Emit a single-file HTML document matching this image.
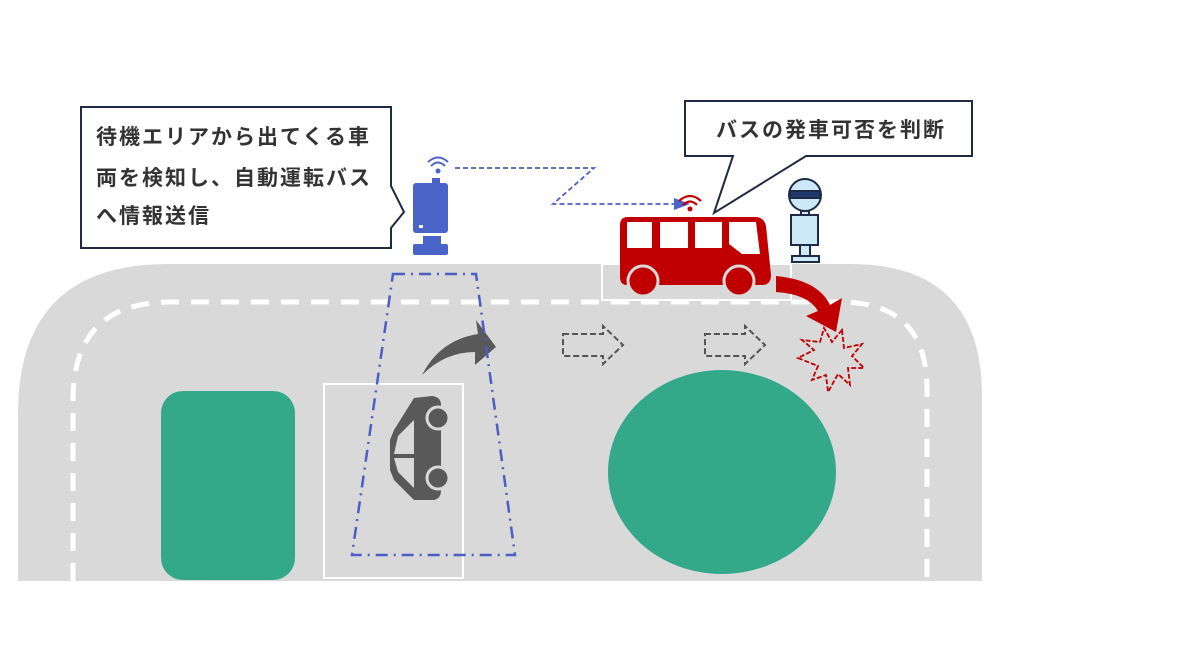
<!DOCTYPE html>
<html><head><meta charset="utf-8"><style>
html,body{margin:0;padding:0;background:#fff;}
svg{display:block;}
text{font-family:"Liberation Sans","Noto Sans CJK JP",sans-serif;font-weight:bold;fill:#333;letter-spacing:2px;}
</style></head><body>
<svg width="1188" height="668" viewBox="0 0 1188 668" xmlns="http://www.w3.org/2000/svg">
<rect width="1188" height="668" fill="#fff"/>
<path d="M18,581 L18,414 Q18,264 168,264 L850,264 Q982,264 982,396 L982,581 Z" fill="#d9d9d9"/>
<path d="M73,581 L73,400 Q73,302 171,302 L840,302 Q927,302 927,389 L927,581" fill="none" stroke="#fff" stroke-width="5" stroke-dasharray="18,12"/>
<rect x="602" y="264" width="189" height="36" fill="#d9d9d9" stroke="#fff" stroke-width="2"/>
<rect x="161" y="391" width="134" height="189" rx="22" fill="#34a98a"/>
<ellipse cx="722" cy="472" rx="114" ry="102" fill="#34a98a"/>
<rect x="324" y="384" width="139" height="194" fill="#d9d9d9" stroke="#fff" stroke-width="2"/>
<g fill="#595959">
<path d="M414,398 L432,396 Q441,397 441,405 L441,490 Q441,500 432,500 L414,500 L394,480 L390,470 L390,440 L394,430 Z"/>
<path d="M398,436 L414,420 L414,454 L394,454 Z" fill="#d9d9d9"/>
<path d="M394,458 L414,458 L414,488 L398,472 Z" fill="#d9d9d9"/>
<circle cx="438" cy="418" r="11" stroke="#d9d9d9" stroke-width="3"/>
<circle cx="438" cy="478" r="11" stroke="#d9d9d9" stroke-width="3"/>
</g>
<path d="M422,375 Q440,340 478,334 L476,320 L496,347 L475,365 L475,352 Q445,352 422,375 Z" fill="#595959"/>
<path d="M393,274 L476,274 L515,555 L352,555 Z" fill="none" stroke="#4a5fc4" stroke-width="2.5" stroke-dasharray="12,6,2,6"/>
<g fill="none" stroke="#555" stroke-width="2" stroke-dasharray="6,3">
<path d="M563,334 L603,334 L603,326 L623,345 L603,364 L603,356 L563,356 Z"/>
<path d="M705,334 L745,334 L745,326 L765,345 L745,364 L745,356 L705,356 Z"/>
</g>
<g fill="#4a63c8">
<rect x="413" y="183" width="35" height="50" rx="3"/>
<rect x="432" y="178" width="8" height="6"/>
<rect x="423" y="236" width="18" height="10"/>
<rect x="413" y="244" width="35" height="11" rx="2"/>
<circle cx="438" cy="171" r="2.5"/>
<path d="M431,166 Q438,159 445,166" fill="none" stroke="#4a63c8" stroke-width="2"/>
<path d="M428,162 Q438,153 448,162" fill="none" stroke="#4a63c8" stroke-width="2"/>
</g>
<rect x="419" y="225" width="4" height="3" fill="#fff"/>
<path d="M455,168 L594,168 L553,204 L675,204" fill="none" stroke="#4a5fc4" stroke-width="1.8" stroke-dasharray="5,3"/>
<path d="M674,198 L690,204 L674,210 Z" fill="#4a63c8"/>
<g fill="none" stroke="#c00000" stroke-width="2.2">
<path d="M683,205 Q690,198 697,205"/><path d="M679,201 Q690,191 701,201"/>
</g>
<circle cx="690" cy="209" r="2.5" fill="#c00000"/>
<path d="M628,217 L755,217 Q764,217 766,226 L771,275 Q771,285 762,285 L627,285 Q620,285 620,277 L620,225 Q620,217 628,217 Z" fill="#c00000"/>
<g fill="#fff">
<rect x="627" y="222" width="25" height="26"/>
<rect x="660" y="222" width="28" height="26"/>
<rect x="695" y="222" width="27" height="26"/>
<path d="M729,222 L756,222 L760,254 L742,254 L729,244 Z"/>
</g>
<circle cx="643" cy="281" r="15" fill="#c00000" stroke="#d9d9d9" stroke-width="3"/>
<circle cx="739" cy="281" r="15" fill="#c00000" stroke="#d9d9d9" stroke-width="3"/>
<path d="M776,276 Q818,280 830,305 L842,298 L836,332 L806,316 L818,311 Q808,294 776,292 Z" fill="#c00000"/>
<path d="M842,330 L844,348 L862,344 L852,356 L864,368 L848,368 L850,385 L838,374 L828,392 L826,375 L812,380 L818,366 L798,358 L814,350 L802,340 L820,342 L824,328 L832,342 Z" fill="none" stroke="#c00000" stroke-width="1.8" stroke-dasharray="5,2"/>
<g stroke="#1f2a44" stroke-width="2">
<circle cx="805" cy="195" r="16" fill="#cde9f7"/>
<rect x="790" y="191" width="30" height="7" fill="#1f3a6a"/>
<rect x="801" y="211" width="8" height="5" fill="#cde9f7"/>
<rect x="791" y="215" width="27" height="30" fill="#cde9f7"/>
<rect x="800" y="245" width="10" height="12" fill="#cde9f7"/>
<rect x="792" y="256" width="27" height="6" fill="#cde9f7"/>
</g>
<path d="M81,107 L391,107 L391,186 L404,212 L391,228 L391,248 L81,248 Z" fill="#fff" stroke="#1f2a44" stroke-width="2"/>
<text x="96" y="144" font-size="21">待機エリアから出てくる車</text>
<text x="96" y="185" font-size="21">両を検知し、自動運転バス</text>
<text x="96" y="223" font-size="21">へ情報送信</text>
<path d="M685,101 L972,101 L972,156 L806,156 L714,213 L733,156 L685,156 Z" fill="#fff" stroke="#1f2a44" stroke-width="2"/>
<text x="716" y="137" font-size="21">バスの発車可否を判断</text>
</svg>
</body></html>
